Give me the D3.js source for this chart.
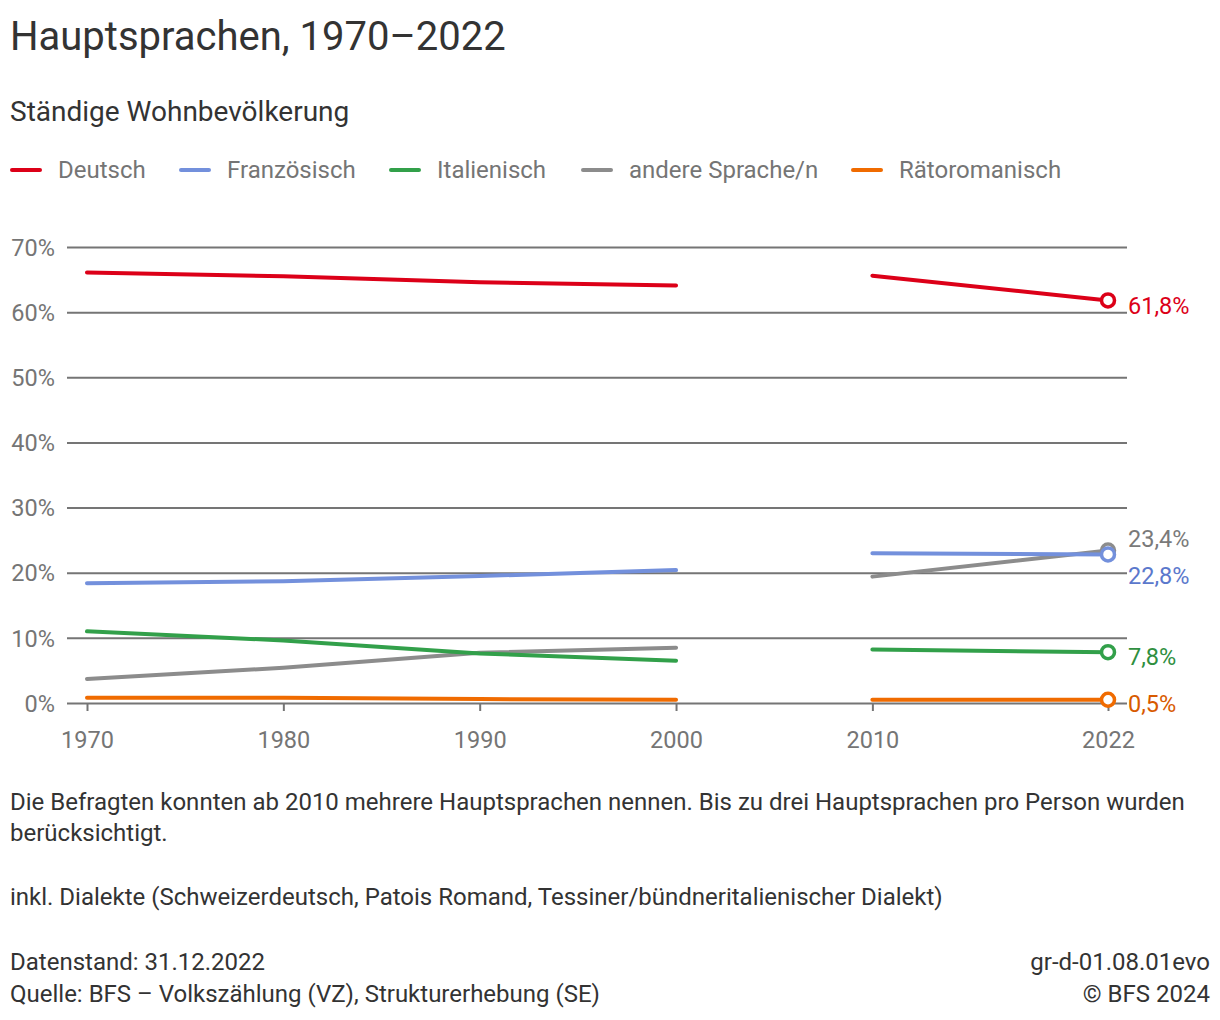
<!DOCTYPE html>
<html lang="de">
<head>
<meta charset="UTF-8">
<title>Hauptsprachen, 1970–2022</title>
<script src="https://d3js.org/d3.v7.min.js"></script>
<style>
    body { margin: 0; background: #fff; font-family: Roboto, 'Noto Sans', sans-serif; }
    svg text { font-family: Roboto, 'Noto Sans', sans-serif; }
</style>
</head>
<body>
<svg id="chart" width="1220" height="1020"></svg>
<script>
    // data (percent)
    const years1 = [1970, 1980, 1990, 2000];
    const years2 = [2010, 2022];
    const languages = ["Deutsch", "Französisch", "Italienisch", "andere Sprache/n", "Rätoromanisch"];
    const colors = ["#dc0018", "#7390dc", "#32a04a", "#8c8c8c", "#f06b00"];
    const labelColors = ["#dc0018", "#5b78cc", "#2f8f40", "#7a7a7a", "#d85a00"];
    const deutsch = [66.1, 65.5, 64.6, 64.1, 65.6, 61.8];
    const franz = [18.4, 18.7, 19.5, 20.4, 23.0, 22.8];
    const ital = [11.0, 9.6, 7.6, 6.5, 8.2, 7.8];
    const andere = [3.7, 5.4, 7.7, 8.5, 19.4, 23.4];
    const raeto = [0.8, 0.8, 0.6, 0.5, 0.5, 0.5];
    const values = [deutsch, franz, ital, andere, raeto];
    const endLabels = ["61,8%", "22,8%", "7,8%", "23,4%", "0,5%"];
    const yTicks = [0, 10, 20, 30, 40, 50, 60, 70];
    const xTicks = [1970, 1980, 1990, 2000, 2010, 2022];

    const svg = d3.select("#chart");
    const x = d3.scaleLinear().domain([1970, 2022]).range([87, 1108]);
    const y = d3.scaleLinear().domain([0, 70]).range([703, 247]);

    svg.append("text").attr("x", 10).attr("y", 50)
        .attr("font-size", 40).attr("fill", "#333").text("Hauptsprachen, 1970–2022");
    svg.append("text").attr("x", 10).attr("y", 121)
        .attr("font-size", 28).attr("fill", "#333").text("Ständige Wohnbevölkerung");

    // legend
    const legendX = [12, 181, 391, 583, 853];
    const legend = svg.append("g");
    languages.forEach((name, i) => {
        legend.append("line").attr("x1", legendX[i]).attr("x2", legendX[i] + 28)
            .attr("y1", 170).attr("y2", 170)
            .attr("stroke", colors[i]).attr("stroke-width", 4).attr("stroke-linecap", "round");
        legend.append("text").attr("x", legendX[i] + 46).attr("y", 178)
            .attr("font-size", 24).attr("fill", "#757575").text(name);
    });

    // y grid
    const yAxis = d3.axisLeft(y).tickValues(yTicks).tickSize(-1060)
        .tickFormat(d => d + "%");
    const gy = svg.append("g").attr("transform", "translate(67,0)").call(yAxis);
    gy.select(".domain").remove();
    gy.selectAll(".tick line").attr("stroke", "#757575").attr("stroke-width", 2);
    gy.selectAll(".tick text").attr("x", -12).attr("dy", "0.35em")
        .attr("font-size", 23.5).attr("fill", "#757575");

    // x axis ticks
    const xAxis = d3.axisBottom(x).tickValues(xTicks).tickSize(8).tickFormat(d3.format("d"));
    const gx = svg.append("g").attr("transform", "translate(0,703)").call(xAxis);
    gx.select(".domain").remove();
    gx.selectAll(".tick line").attr("stroke", "#757575").attr("stroke-width", 2);
    gx.selectAll(".tick text").attr("y", 37).attr("dy", "0.35em")
        .attr("font-size", 23.5).attr("fill", "#757575");

    const line = d3.line().x(d => x(d[0])).y(d => y(d[1]));
    const order = [3, 4, 2, 1, 0];
    order.forEach(i => {
        const v = values[i];
        const seg1 = years1.map((yr, k) => [yr, v[k]]);
        const seg2 = years2.map((yr, k) => [yr, v[k + 4]]);
        [seg1, seg2].forEach(seg => {
            svg.append("path").attr("d", line(seg)).attr("fill", "none")
                .attr("stroke", colors[i]).attr("stroke-width", 4)
                .attr("stroke-linecap", "round").attr("stroke-linejoin", "round");
        });
    });
    order.forEach(i => {
        svg.append("circle").attr("cx", x(2022)).attr("cy", y(values[i][5])).attr("r", 6.5)
            .attr("fill", "#fff").attr("stroke", colors[i]).attr("stroke-width", 3.5);
    });

    // end labels
    const labelOffsets = [5, 21, 5, -12, 4];
    [0, 1, 2, 3, 4].forEach(i => {
        svg.append("text").attr("x", 1128).attr("y", y(values[i][5]) + labelOffsets[i])
            .attr("dy", "0.35em").attr("font-size", 23.5).attr("fill", labelColors[i])
            .text(endLabels[i]);
    });

    // notes
    const notes = [
        ["Die Befragten konnten ab 2010 mehrere Hauptsprachen nennen. Bis zu drei Hauptsprachen pro Person wurden", 810],
        ["berücksichtigt.", 841],
        ["inkl. Dialekte (Schweizerdeutsch, Patois Romand, Tessiner/bündneritalienischer Dialekt)", 905],
        ["Datenstand: 31.12.2022", 970],
        ["Quelle: BFS – Volkszählung (VZ), Strukturerhebung (SE)", 1002]
    ];
    notes.forEach(n => {
        svg.append("text").attr("x", 10).attr("y", n[1]).attr("font-size", 24)
            .attr("fill", "#333").text(n[0]);
    });
    [["gr-d-01.08.01evo", 970], ["© BFS 2024", 1002]].forEach(n => {
        svg.append("text").attr("x", 1210).attr("y", n[1]).attr("text-anchor", "end")
            .attr("font-size", 24).attr("fill", "#333").text(n[0]);
    });
</script>
</body>
</html>
